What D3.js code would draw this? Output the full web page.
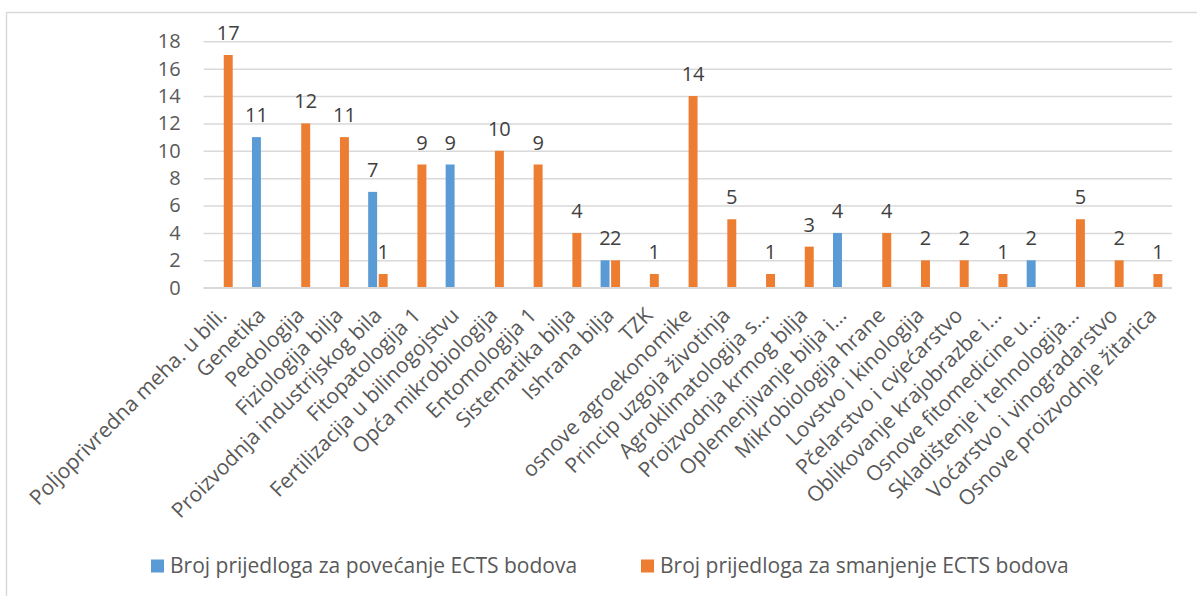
<!DOCTYPE html>
<html>
<head>
<meta charset="utf-8">
<script src="https://cdn.jsdelivr.net/npm/d3@7"></script>
<style>
  html, body { margin: 0; padding: 0; background: #fff; }
  svg { display: block; }
  text { font-family: "Open Sans", "Noto Sans", sans-serif; fill: #595959; }
</style>
</head>
<body>
<svg id="chart" width="1197" height="596"></svg>
<script>
const categories = [
  "Poljoprivredna meha. u bili.", "Genetika", "Pedologija", "Fiziologija bilja",
  "Proizvodnja industrijskog bila", "Fitopatologija 1", "Fertilizacija u bilinogojstvu",
  "Opća mikrobiologija", "Entomologija 1", "Sistematika bilja", "Ishrana bilja", "TZK",
  "osnove agroekonomike", "Princip uzgoja životinja", "Agroklimatologija s...",
  "Proizvodnja krmog bilja", "Oplemenjivanje bilja i...", "Mikrobiologija hrane",
  "Lovstvo i kinologija", "Pčelarstvo i cvjećarstvo", "Oblikovanje krajobrazbe i...",
  "Osnove fitomedicine u...", "Skladištenje i tehnologija...", "Voćarstvo i vinogradarstvo",
  "Osnove proizvodnje žitarica"
];
const increase = [null, 11, null, null, 7, null, 9, null, null, null, 2, null, null, null, null, null, 4, null, null, null, null, 2, null, null, null];
const decrease = [17, null, 12, 11, 1, 9, null, 10, 9, 4, 2, 1, 14, 5, 1, 3, null, 4, 2, 2, 1, null, 5, 2, 1];
const seriesNames = ["Broj prijedloga za povećanje ECTS bodova", "Broj prijedloga za smanjenje ECTS bodova"];
const seriesColors = ["#5b9bd5", "#ed7d31"];
const yTicks = [0, 2, 4, 6, 8, 10, 12, 14, 16, 18];

(function () {
const svg = d3.select("#chart");
const W = 1197, H = 596;
const pLeft = 203.6, pRight = 1172, pTop = 41.3, pBottom = 287.7;

svg.append("path")
  .attr("d", `M6.5,${H} L6.5,12.5 L${W},12.5`)
  .attr("fill", "none").attr("stroke", "#d9d9d9").attr("stroke-width", 1.5);

const y = d3.scaleLinear().domain([0, 18]).range([pBottom, pTop]);
const x0 = d3.scaleBand().domain(categories).range([pLeft, pRight]).paddingInner(0.497).paddingOuter(0.2485);
const x1 = d3.scaleBand().domain([0, 1]).range([0, x0.bandwidth()]).paddingInner(0.15);

const yAxis = d3.axisLeft(y).tickValues(yTicks).tickSize(-(pRight - pLeft)).tickPadding(23);
const gy = svg.append("g").attr("transform", `translate(${pLeft},0)`).call(yAxis);
gy.select(".domain").remove();
gy.selectAll(".tick line").attr("stroke", "#d9d9d9").attr("stroke-width", 1.5);
gy.selectAll(".tick text").attr("font-size", 20).style("fill", "#595959")
  .attr("font-family", '"Open Sans", sans-serif');

const data = [increase, decrease];
data.forEach((vals, s) => {
  const g = svg.append("g");
  const items = categories.map((c, i) => ({ c, v: vals[i] })).filter(d => d.v !== null);
  g.selectAll("rect").data(items).join("rect")
    .attr("x", d => x0(d.c) + x1(s))
    .attr("y", d => y(d.v))
    .attr("width", x1.bandwidth())
    .attr("height", d => y(0) - y(d.v))
    .attr("fill", seriesColors[s]);
  g.selectAll("text").data(items).join("text")
    .attr("x", d => x0(d.c) + x1(s) + x1.bandwidth() / 2)
    .attr("y", d => y(d.v) - 15)
    .attr("text-anchor", "middle")
    .attr("font-size", 20)
    .style("fill", "#404040")
    .text(d => d.v);
});

svg.append("line").attr("x1", pLeft).attr("x2", pRight).attr("y1", pBottom).attr("y2", pBottom)
  .attr("stroke", "#d9d9d9").attr("stroke-width", 1.5);

const xAxis = d3.axisBottom(x0).tickSize(0).tickPadding(0);
const gx = svg.append("g").attr("transform", `translate(0,${pBottom})`).call(xAxis);
gx.select(".domain").remove();
gx.selectAll(".tick text")
  .attr("font-size", 21)
  .attr("font-family", '"Open Sans", sans-serif')
  .style("fill", "#595959")
  .attr("text-anchor", "end")
  .attr("dy", null)
  .attr("y", 0)
  .attr("transform", "translate(5,29) rotate(-45)");

const legend = svg.append("g");
const legendX = [151, 641];
seriesNames.forEach((n, i) => {
  legend.append("rect").attr("x", legendX[i]).attr("y", 559.5).attr("width", 13).attr("height", 13)
    .attr("fill", seriesColors[i]);
  legend.append("text").attr("x", legendX[i] + 19).attr("y", 573)
    .attr("font-size", 21).style("fill", "#595959").text(n);
});
})();
</script>
</body>
</html>
